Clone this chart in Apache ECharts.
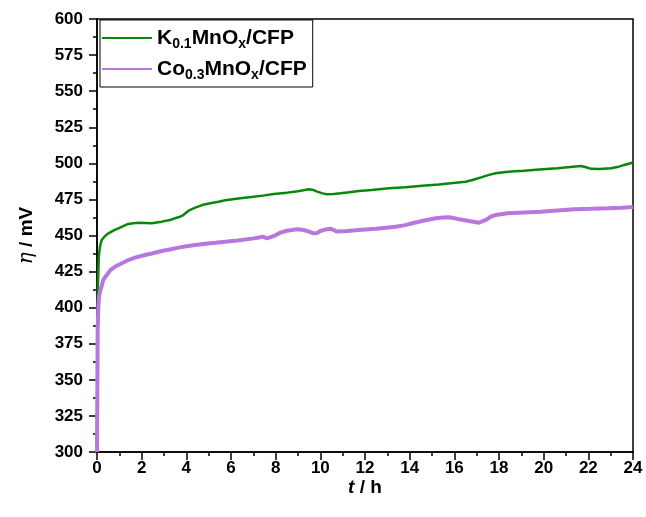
<!DOCTYPE html>
<html>
<head>
<meta charset="utf-8">
<script src="https://cdn.jsdelivr.net/npm/echarts@6/dist/echarts.min.js"></script>
<style>html,body{margin:0;padding:0;background:#fff}#c{width:646px;height:517px}</style>
</head>
<body>
<div id="c"></div>
<script>
var seriesNames = ['K0.1MnOx/CFP', 'Co0.3MnOx/CFP'];
var xTicks = [0, 2, 4, 6, 8, 10, 12, 14, 16, 18, 20, 22, 24];
var yTicks = [300, 325, 350, 375, 400, 425, 450, 475, 500, 525, 550, 575, 600];

var tGreen = [0, 0.03, 0.08, 0.13, 0.21, 0.35, 0.51, 0.75, 0.96, 1.2, 1.4, 1.63, 1.85, 2.15, 2.45, 2.9, 3.27, 3.5, 3.72, 3.85, 4.1, 4.4, 4.7, 5.07, 5.44, 5.74, 6.42, 7.01, 7.5, 7.91, 8.51, 9.0, 9.48, 9.7, 9.86, 10.1, 10.3, 10.6, 10.9, 11.3, 11.72, 12.3, 13.07, 13.8, 14.57, 15.3, 16.06, 16.5, 16.81, 17.2, 17.55, 17.85, 18.3, 18.7, 19.12, 19.8, 20.62, 21.2, 21.67, 21.9, 22.12, 22.5, 23.01, 23.3, 23.61, 23.85, 24];
var vGreen = [300, 410, 435, 442, 446.9, 449.5, 451.5, 453.5, 455, 456.7, 458, 458.5, 458.9, 458.7, 458.5, 459.6, 460.7, 462, 463, 464, 467.2, 469.3, 471.1, 472.3, 473.4, 474.4, 475.8, 476.9, 477.8, 478.8, 479.7, 480.6, 482, 481.5, 480.4, 479.2, 478.6, 478.8, 479.2, 480, 480.8, 481.5, 482.7, 483.5, 484.5, 485.4, 486.6, 487.3, 488.5, 490.3, 492, 493.1, 494, 494.5, 494.9, 495.7, 496.6, 497.5, 498.2, 497.3, 496.2, 496.1, 496.6, 497.4, 498.9, 499.9, 500.6];

var tPurple = [0, 0.03, 0.06, 0.09, 0.15, 0.21, 0.28, 0.43, 0.6, 0.8, 0.96, 1.2, 1.4, 1.7, 2.15, 2.45, 2.9, 3.3, 3.65, 4.0, 4.4, 4.85, 5.3, 5.74, 6.3, 7.01, 7.25, 7.39, 7.5, 7.61, 7.9, 8.21, 8.5, 8.96, 9.25, 9.5, 9.7, 9.85, 10.0, 10.25, 10.45, 10.6, 10.75, 11.2, 11.72, 12.5, 13.37, 13.8, 14.12, 14.6, 15.16, 15.5, 15.76, 16.0, 16.21, 16.66, 17.1, 17.4, 17.63, 17.85, 18.38, 19.1, 19.87, 20.6, 21.37, 22.1, 22.86, 23.5, 24];
var vPurple = [300, 385, 400, 407.6, 412, 415, 419.2, 422.5, 426, 428.3, 429.6, 431.5, 433, 434.7, 436.5, 437.5, 439.3, 440.5, 441.6, 442.5, 443.4, 444.3, 445, 445.7, 446.6, 448, 448.6, 449.2, 448.8, 448, 449.5, 452, 453.3, 454.3, 453.8, 452.7, 451.5, 451.8, 453.1, 454.2, 454.7, 453.8, 452.7, 453.2, 453.8, 454.7, 456.1, 457.2, 458.5, 460.2, 462, 462.5, 462.6, 462, 461.2, 460, 458.9, 460.7, 463, 464.2, 465.4, 465.9, 466.5, 467.4, 468.2, 468.5, 468.9, 469.3, 469.8];

function pairs(t, v) { return t.map(function (x, i) { return [x, v[i]]; }); }

var FONT = 'Liberation Sans, Arial, sans-serif';
var legendRich = {
  b: { fontSize: 21, fontWeight: 'bold', fontFamily: FONT, color: '#000', lineHeight: 26 },
  s: { fontSize: 14, fontWeight: 'bold', fontFamily: FONT, color: '#000', padding: [12, 0, 0, 0], lineHeight: 26 }
};
function legendFmt(name) {
  var m = name.match(/^([A-Za-z]+)([0-9.]+)(MnO)(x)(\/CFP)$/);
  return '{b|' + m[1] + '}{s|' + m[2] + '}{b|' + m[3] + '}{s|' + m[4] + '}{b|' + m[5] + '}';
}

var chart = echarts.init(document.getElementById('c'), null, { renderer: 'canvas' });
chart.setOption({
  animation: false,
  backgroundColor: '#fff',
  grid: { left: 97, right: 13, top: 19, bottom: 65, show: true, borderColor: '#000', borderWidth: 1.5, backgroundColor: 'transparent' },
  legend: {
    left: 100, top: 20, orient: 'vertical',
    data: seriesNames,
    formatter: legendFmt,
    icon: 'rect', itemWidth: 50, itemHeight: 2, itemGap: 5,
    textStyle: { rich: legendRich },
    borderColor: '#000', borderWidth: 1, padding: [5, 6, 5, 2],
    backgroundColor: '#fff'
  },
  xAxis: {
    type: 'value', min: 0, max: 24, interval: 2,
    name: '{i|t}{n| / h}', nameLocation: 'middle', nameGap: 26, nameMoveOverlap: false,
    nameTextStyle: { rich: {
      i: { fontSize: 19, fontWeight: 'bold', fontStyle: 'italic', fontFamily: FONT, color: '#000' },
      n: { fontSize: 19, fontWeight: 'bold', fontFamily: FONT, color: '#000' } } },
    axisLine: { show: true, lineStyle: { color: '#000', width: 1.5 } },
    axisTick: { show: true, inside: false, length: 8, lineStyle: { color: '#000', width: 1.5 } },
    minorTick: { show: true, splitNumber: 2, length: 4, lineStyle: { color: '#000', width: 1.5 } },
    splitLine: { show: false },
    axisLabel: { color: '#000', fontSize: 17, fontWeight: 'bold', fontFamily: FONT, margin: 8,
      formatter: function (v) { return xTicks.indexOf(v) >= 0 ? String(v) : ''; } }
  },
  yAxis: {
    type: 'value', min: 300, max: 600, interval: 25,
    name: '{i|η}{n| / mV}', nameLocation: 'middle', nameGap: 60, nameRotate: 90, nameMoveOverlap: false,
    nameTextStyle: { rich: {
      i: { fontSize: 20, fontStyle: 'italic', fontFamily: 'DejaVu Serif, Liberation Serif', color: '#000' },
      n: { fontSize: 19, fontWeight: 'bold', fontFamily: FONT, color: '#000' } } },
    axisLine: { show: true, lineStyle: { color: '#000', width: 1.5 } },
    axisTick: { show: true, inside: false, length: 8, lineStyle: { color: '#000', width: 1.5 } },
    minorTick: { show: true, splitNumber: 2, length: 4, lineStyle: { color: '#000', width: 1.5 } },
    splitLine: { show: false },
    axisLabel: { color: '#000', fontSize: 17, fontWeight: 'bold', fontFamily: FONT, margin: 14,
      formatter: function (v) { return yTicks.indexOf(v) >= 0 ? String(v) : ''; } }
  },
  series: [
    { name: seriesNames[0], type: 'line', data: pairs(tGreen, vGreen), showSymbol: false, symbol: 'none',
      lineStyle: { color: '#088808', width: 2.5 }, itemStyle: { color: '#088808' }, z: 2 },
    { name: seriesNames[1], type: 'line', data: pairs(tPurple, vPurple), showSymbol: false, symbol: 'none',
      lineStyle: { color: '#b877df', width: 4 }, itemStyle: { color: '#b877df' }, z: 3 }
  ]
});
</script>
</body>
</html>
